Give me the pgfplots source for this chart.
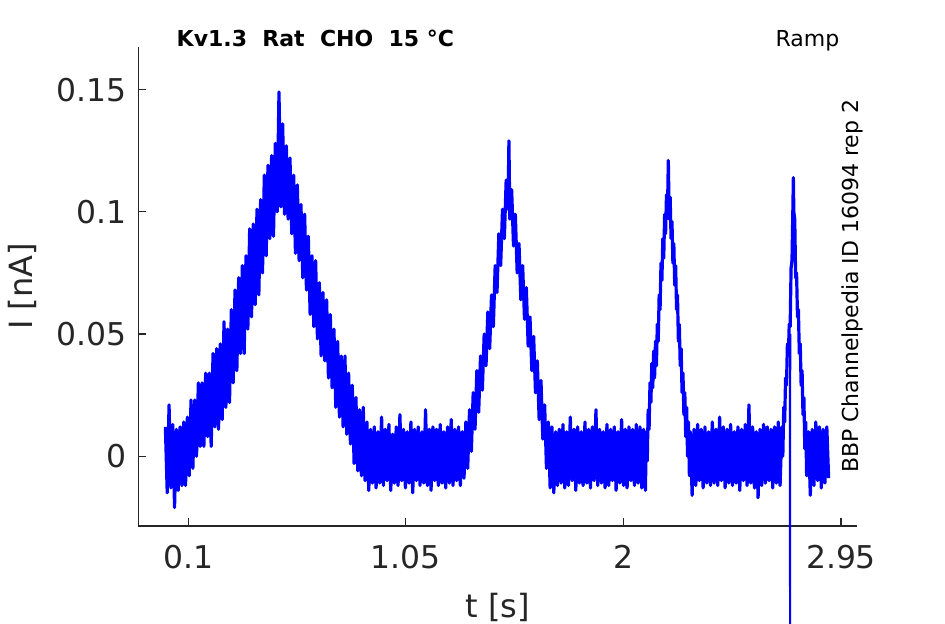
\documentclass[border=0pt]{standalone}
\usepackage{fontspec}
\setmainfont{DejaVu Sans}
\usepackage{pgfplots}
\pgfplotsset{compat=1.18}
\definecolor{axgray}{RGB}{38,38,38}
\begin{document}
\begin{tikzpicture}
\begin{axis}[
  at={(0,0)}, anchor=south west,
  scale only axis,
  width=359.2pt, height=239.65pt,
  xmin=-0.1183, xmax=3.0186,
  ymin=-0.02856, ymax=0.16755,
  clip=false,
  axis lines=left,
  axis line style={-, draw=axgray, line width=0.6pt},
  tick align=inside,
  major tick length=4pt,
  tick style={draw=axgray, line width=0.6pt},
  xtick={0.1,1.05,2,2.95}, xticklabels={0.1,1.05,2,2.95},
  ytick={0,0.05,0.1,0.15}, yticklabels={0,0.05,0.1,0.15},
  ticklabel style={font=\fontsize{15.7}{18}\selectfont, text=axgray},
  xticklabel style={yshift=-6.3pt},
  yticklabel style={xshift=-2.3pt},
  xlabel={t [s]}, ylabel={I [nA]},
  label style={font=\fontsize{16}{19}\selectfont, text=axgray},
  xlabel style={at={(axis description cs:0.5,-0.1899)}, anchor=base},
  ylabel style={at={(axis description cs:-0.1466,0.5)}, anchor=base},
]
\addplot[blue, line width=1.6pt, line join=round, no marks] coordinates {
(0.000,0.012) (0.008,-0.015) (0.016,0.021) (0.024,-0.013) (0.032,0.013) (0.040,-0.021) (0.048,0.011) (0.056,-0.014) (0.064,0.012)
(0.072,-0.012) (0.080,0.014) (0.088,-0.012) (0.096,0.016) (0.104,-0.008) (0.112,0.023) (0.120,-0.005) (0.128,0.023) (0.136,0.000) (0.144,0.030)
(0.152,0.004) (0.160,0.030) (0.168,0.004) (0.176,0.034) (0.184,0.008) (0.192,0.034) (0.200,0.004) (0.208,0.042) (0.216,0.012) (0.224,0.044)
(0.232,0.011) (0.240,0.046) (0.248,0.015) (0.256,0.055) (0.264,0.020) (0.272,0.052) (0.280,0.022) (0.288,0.060) (0.296,0.030) (0.304,0.068)
(0.312,0.035) (0.320,0.073) (0.328,0.042) (0.336,0.078) (0.344,0.042) (0.352,0.082) (0.360,0.052) (0.368,0.093) (0.376,0.057) (0.384,0.095)
(0.392,0.062) (0.400,0.101) (0.408,0.066) (0.416,0.105) (0.424,0.075) (0.432,0.115) (0.440,0.082) (0.448,0.119) (0.456,0.089) (0.464,0.123)
(0.472,0.090) (0.480,0.128) (0.488,0.100) (0.496,0.149) (0.504,0.102) (0.512,0.136) (0.520,0.099) (0.528,0.127) (0.536,0.097) (0.544,0.122)
(0.552,0.091) (0.560,0.115) (0.568,0.083) (0.576,0.111) (0.584,0.080) (0.592,0.103) (0.600,0.073) (0.608,0.099) (0.616,0.068) (0.624,0.090)
(0.632,0.058) (0.640,0.082) (0.648,0.053) (0.656,0.080) (0.664,0.048) (0.672,0.071) (0.680,0.041) (0.688,0.067) (0.696,0.039) (0.704,0.064)
(0.712,0.032) (0.720,0.058) (0.728,0.028) (0.736,0.052) (0.744,0.020) (0.752,0.047) (0.760,0.016) (0.768,0.041) (0.776,0.012) (0.784,0.041)
(0.792,0.009) (0.800,0.034) (0.808,0.005) (0.816,0.029) (0.824,-0.003) (0.832,0.024) (0.840,-0.006) (0.848,0.019) (0.856,-0.008) (0.864,0.020)
(0.872,-0.010) (0.880,0.014) (0.888,-0.014) (0.896,0.011)
(0.904,-0.011) (0.912,0.012) (0.920,-0.013) (0.928,0.010) (0.936,-0.011) (0.944,0.016) (0.952,-0.012) (0.960,0.011) (0.968,-0.010) (0.976,0.013)
(0.984,-0.014) (0.992,0.009) (1.000,-0.011) (1.008,0.012) (1.016,-0.012) (1.024,0.017) (1.032,-0.010) (1.040,0.011) (1.048,-0.013) (1.056,0.010)
(1.064,-0.011) (1.072,0.014) (1.080,-0.015) (1.088,0.011) (1.096,-0.010) (1.104,0.012) (1.112,-0.012) (1.120,0.010) (1.128,-0.011) (1.136,0.019)
(1.144,-0.012) (1.152,0.011) (1.160,-0.014) (1.168,0.012) (1.176,-0.010) (1.184,0.011) (1.192,-0.012) (1.200,0.013) (1.208,-0.011) (1.216,0.010)
(1.224,-0.013) (1.232,0.012) (1.240,-0.011) (1.248,0.015) (1.256,-0.012) (1.264,0.011) (1.272,-0.010) (1.280,0.012) (1.288,-0.012) (1.296,0.010)
(1.304,-0.009) (1.312,0.014) (1.320,-0.005) (1.328,0.019) (1.336,0.002) (1.344,0.026) (1.352,0.011) (1.360,0.035) (1.368,0.018) (1.376,0.041)
(1.384,0.027) (1.392,0.050) (1.400,0.037) (1.408,0.059) (1.416,0.044) (1.424,0.066) (1.432,0.053) (1.440,0.078) (1.448,0.067) (1.456,0.091)
(1.464,0.078) (1.472,0.101) (1.480,0.089) (1.488,0.113) (1.496,0.101) (1.500,0.129) (1.504,0.097) (1.512,0.109) (1.520,0.086) (1.528,0.099)
(1.536,0.075) (1.544,0.087) (1.552,0.064) (1.560,0.078) (1.568,0.056) (1.576,0.069) (1.584,0.045) (1.592,0.057) (1.600,0.035) (1.608,0.049)
(1.616,0.026) (1.624,0.039) (1.632,0.015) (1.640,0.031) (1.648,0.007) (1.656,0.021) (1.664,-0.005) (1.672,0.014) (1.680,-0.013)
(1.688,0.012) (1.696,-0.015) (1.704,0.010) (1.712,-0.012) (1.720,0.011) (1.728,-0.011) (1.736,0.013) (1.744,-0.013) (1.752,0.010) (1.760,-0.012)
(1.768,0.016) (1.776,-0.010) (1.784,0.011) (1.792,-0.014) (1.800,0.012) (1.808,-0.011) (1.816,0.010) (1.824,-0.012) (1.832,0.014) (1.840,-0.011)
(1.848,0.011) (1.856,-0.013) (1.864,0.012) (1.872,-0.010) (1.880,0.019) (1.888,-0.012) (1.896,0.011) (1.904,-0.011) (1.912,0.010) (1.920,-0.013)
(1.928,0.013) (1.936,-0.012) (1.944,0.011) (1.952,-0.010) (1.960,0.012) (1.968,-0.014) (1.976,0.010) (1.984,-0.011) (1.992,0.015) (2.000,-0.012)
(2.008,0.011) (2.016,-0.013) (2.024,0.012) (2.032,-0.010) (2.040,0.011) (2.048,-0.012) (2.056,0.013) (2.064,-0.011) (2.072,0.012) (2.080,-0.013)
(2.088,0.011) (2.096,-0.014)
(2.100,0.010) (2.104,-0.002) (2.108,0.019) (2.112,0.011) (2.116,0.030) (2.120,0.022) (2.124,0.038) (2.128,0.028) (2.132,0.043) (2.136,0.032)
(2.140,0.047) (2.144,0.037) (2.148,0.054) (2.152,0.047) (2.156,0.066) (2.160,0.060) (2.164,0.079) (2.168,0.072) (2.172,0.089) (2.176,0.081)
(2.180,0.099) (2.184,0.091) (2.188,0.107) (2.192,0.098) (2.196,0.121) (2.200,0.097) (2.204,0.106) (2.208,0.089) (2.212,0.096) (2.216,0.079)
(2.220,0.087) (2.224,0.070) (2.228,0.078) (2.232,0.060) (2.236,0.066) (2.240,0.047) (2.244,0.054) (2.248,0.037) (2.252,0.044) (2.256,0.026)
(2.260,0.034) (2.264,0.017) (2.268,0.026) (2.272,0.008) (2.276,0.020) (2.280,0.000) (2.284,0.014) (2.288,-0.008) (2.292,0.010)
(2.300,-0.016) (2.308,0.011) (2.316,-0.012) (2.324,0.013) (2.332,-0.010) (2.340,0.011) (2.348,-0.013) (2.356,0.012) (2.364,-0.011) (2.372,0.010)
(2.380,-0.012) (2.388,0.014) (2.396,-0.011) (2.404,0.011) (2.412,-0.012) (2.420,0.016) (2.428,-0.010) (2.436,0.012) (2.444,-0.013) (2.452,0.011)
(2.460,-0.011) (2.468,0.013) (2.476,-0.012) (2.484,0.010) (2.492,-0.011) (2.500,0.012) (2.508,-0.014) (2.516,0.011) (2.524,-0.010) (2.532,0.013)
(2.540,-0.012) (2.548,0.021) (2.556,-0.011) (2.564,0.012) (2.572,-0.013) (2.580,0.010) (2.588,-0.017) (2.596,0.011) (2.604,-0.012) (2.612,0.013)
(2.620,-0.011) (2.628,0.012) (2.636,-0.010) (2.644,0.011) (2.652,-0.013) (2.660,0.012) (2.668,-0.011) (2.676,0.014) (2.684,-0.012)
(2.692,0.012) (2.696,0.000) (2.700,0.020) (2.704,0.014) (2.708,0.032) (2.712,0.029) (2.716,0.046) (2.720,0.041) (2.724,0.054)
(2.728,0.053) (2.732,0.077) (2.736,0.080) (2.740,0.102) (2.742,0.114) (2.744,0.100) (2.748,0.097) (2.752,0.073) (2.756,0.075) (2.760,0.057)
(2.764,0.060) (2.768,0.042) (2.772,0.046) (2.776,0.029) (2.780,0.035) (2.784,0.017) (2.788,0.024) (2.792,0.003) (2.796,0.014) (2.800,-0.008)
(2.808,0.010) (2.816,-0.016) (2.824,0.011) (2.832,-0.012) (2.840,0.014) (2.848,-0.010) (2.856,0.012) (2.864,-0.013) (2.872,0.011) (2.880,-0.011)
(2.888,0.012) (2.896,-0.009)
};
\addplot[blue, line width=1pt, no marks] coordinates {
(2.7265,0.050) (2.7275,-0.080) (2.7285,0.050)
};
\node[anchor=base west, inner sep=0pt, font=\bfseries\fontsize{11}{13}\selectfont] at (rel axis cs:0.0529,1) {Kv1.3\ \ Rat\ \ CHO\ \ 15 °C};
\node[anchor=base east, inner sep=0pt, font=\fontsize{11}{13}\selectfont] at (rel axis cs:0.9763,1) {Ramp};
\node[anchor=base, rotate=90, inner sep=0pt, font=\fontsize{11}{13}\selectfont] at (rel axis cs:1.002,0.5) {BBP Channelpedia ID 16094 rep 2};
\end{axis}
\pgfresetboundingbox
\path[use as bounding box] (-69.15pt,-49pt) rectangle (403.35pt,263pt);
\end{tikzpicture}
\end{document}
